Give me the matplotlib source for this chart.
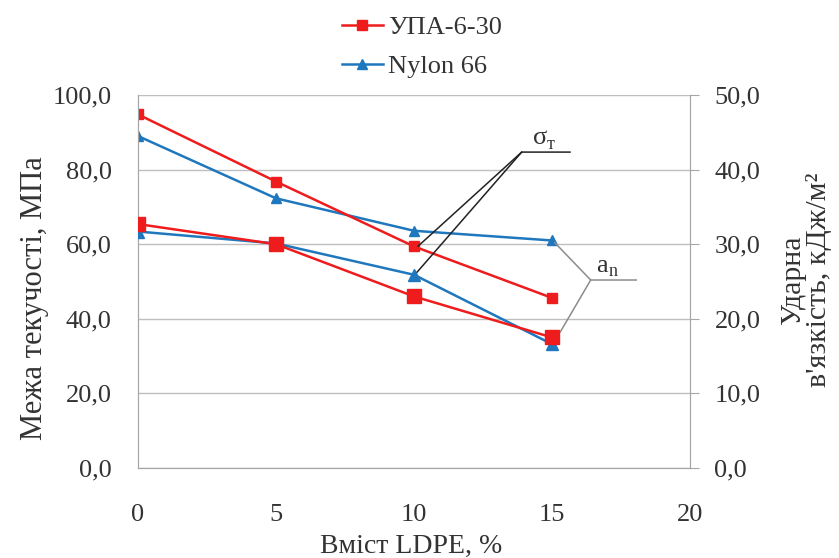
import matplotlib
matplotlib.use('Agg')
import matplotlib.pyplot as plt
from matplotlib.ticker import FuncFormatter
from matplotlib.lines import Line2D

# Дані
ldpe = [0, 5, 10, 15]
sigma_upa = [94.8, 76.8, 59.4, 45.6]      # межа текучості, МПа
sigma_nylon = [89.0, 72.3, 63.6, 61.0]
impact_upa = [32.7, 30.0, 23.0, 17.5]     # ударна в'язкість, кДж/м2
impact_nylon = [31.7, 30.1, 25.9, 16.6]

labels = ['УПА-6-30', 'Nylon 66']
red = '#EE1C1C'
blue = '#1F78BE'
grey = '#A6A6A6'
txt = '#333333'

plt.rcParams['font.family'] = ['Liberation Serif', 'DejaVu Serif']

fig = plt.figure(figsize=(8.39, 5.58), dpi=100)
ax = fig.add_axes([0.1645, 0.1613, 0.658, 0.6684])
ax2 = ax.twinx()

ax.plot(ldpe, sigma_upa, color=red, lw=1.8, marker='s', ms=7, zorder=4)
ax.plot(ldpe, sigma_nylon, color=blue, lw=1.8, marker='^', ms=7, zorder=3)
ax2.plot(ldpe, impact_nylon, color=blue, lw=1.8, marker='^', ms=8, zorder=3)
ax2.plot(ldpe, impact_upa, color=red, lw=1.8, marker='s', ms=10, zorder=4)

ax.set_xlim(0, 20)
ax.set_ylim(0, 100)
ax2.set_ylim(0, 50)
ax.set_xticks([0, 5, 10, 15, 20])
ax.set_yticks([0, 20, 40, 60, 80, 100])
ax2.set_yticks([0, 10, 20, 30, 40, 50])

fmt = FuncFormatter(lambda v, p: f'{v:.1f}'.replace('.', ','))
ax.yaxis.set_major_formatter(fmt)
ax2.yaxis.set_major_formatter(fmt)

ax.grid(axis='y', color='#BFBFBF', lw=1)
ax.set_axisbelow(True)
for a in (ax, ax2):
    a.spines['top'].set_visible(False)
    for s in ('left', 'right', 'bottom'):
        a.spines[s].set_color(grey)
ax.tick_params(axis='x', length=0, pad=26, labelsize=19, labelcolor=txt)
ax.tick_params(axis='y', length=0, pad=19, labelsize=19, labelcolor=txt)
ax2.tick_params(axis='y', length=6.5, color=grey, pad=11, labelsize=19, labelcolor=txt)

fig.text(35 / 839, 1 - 298 / 558, 'Межа текучості, МПа', rotation=90,
         ha='center', va='center', fontsize=22, color=txt)
fig.text(806 / 839, 1 - 280 / 558, "Ударна\nв'язкість, кДж/м²", rotation=90,
         ha='center', va='center', multialignment='center', fontsize=21.5,
         color=txt, linespacing=0.95)
fig.text(411 / 839, 1 - 546 / 558, 'Вміст LDPE, %', ha='center', va='center',
         fontsize=20, color=txt)

# виноски
ax.plot([10.15, 13.9, 15.65], [59.5, 84.7, 84.7], color='#222222', lw=1.1, clip_on=False, zorder=5)
ax.plot([10.05, 13.9], [52.0, 84.7], color='#222222', lw=1.1, clip_on=False, zorder=5)
ax.text(14.3, 85.5, 'σ', fontsize=19, color=txt, ha='left', va='bottom')
ax.text(14.8, 84.4, 'т', fontsize=13, color=txt, ha='left', va='bottom')

ax.plot([15.1, 16.4, 18.05], [60.4, 50.4, 50.4], color='#8C8C8C', lw=1.1, clip_on=False, zorder=5)
ax.plot([15.3, 16.4], [36.5, 50.4], color='#8C8C8C', lw=1.1, clip_on=False, zorder=5)
ax.text(16.6, 51.2, 'a', fontsize=19, color=txt, ha='left', va='bottom')
ax.text(17.05, 50.3, 'n', fontsize=13, color=txt, ha='left', va='bottom')

handles = [Line2D([], [], color=red, lw=1.8, marker='s', ms=6.5),
           Line2D([], [], color=blue, lw=1.8, marker='^', ms=6.5)]
fig.legend(handles, labels, loc='center', bbox_to_anchor=(422 / 839, 1 - 47 / 558),
           frameon=False, fontsize=19, handlelength=1.55, handletextpad=0.2,
           labelspacing=0.6, labelcolor=txt)

fig.savefig('out.png', dpi=100)
